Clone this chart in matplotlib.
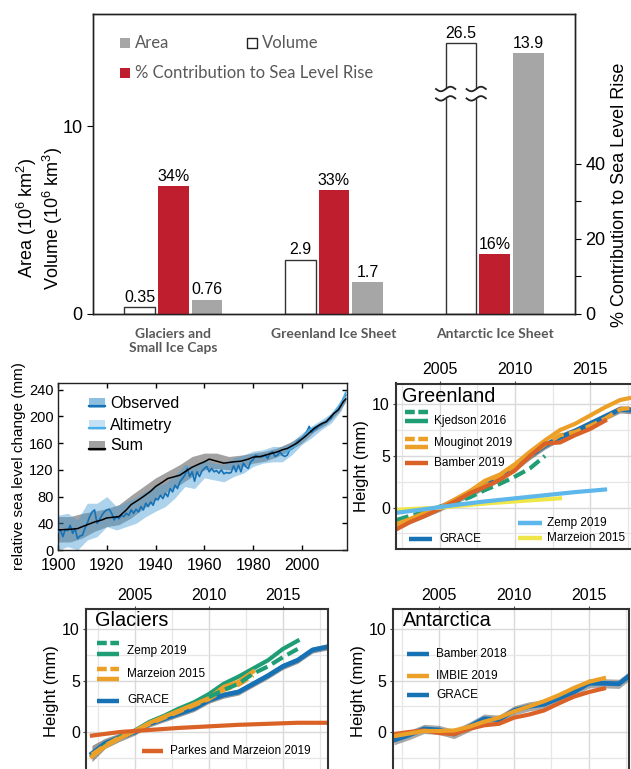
import numpy as np
import matplotlib
matplotlib.use('Agg')
import matplotlib.pyplot as plt
from matplotlib.patches import Rectangle
from matplotlib.lines import Line2D

plt.rcParams['font.family'] = ['Liberation Sans', 'DejaVu Sans']
plt.rcParams['mathtext.fontset'] = 'custom'
plt.rcParams['mathtext.rm'] = 'Liberation Sans'
plt.rcParams['mathtext.it'] = 'Liberation Sans:italic'

# ---------------- data: top bar panel ----------------
categories = ['Glaciers and\nSmall Ice Caps', 'Greenland Ice Sheet', 'Antarctic Ice Sheet']
volume = [0.35, 2.9, 26.5]          # 10^6 km^3
area = [0.76, 1.7, 13.9]            # 10^6 km^2
slr_contribution = [34, 33, 16]     # % contribution to sea level rise
volume_labels = ['0.35', '2.9', '26.5']
area_labels = ['0.76', '1.7', '13.9']
slr_labels = ['34%', '33%', '16%']
volume_break_at = 14.45             # broken (Antarctic) volume bar drawn up to this
left_ticks = [0, 10]
right_ticks = [0, 10, 20, 30, 40]
right_ticklabels = ['0', '', '20', '', '40']

# ---------------- data: sea level panel ----------------
obs_years = np.arange(1900, 2019)
observed = [27, 30, 20, 31, 29, 37, 25, 32, 17, 21,
            22, 32, 40, 50, 57, 60, 40, 45, 52, 57,
            60, 61, 55, 45, 50, 47, 52, 50, 55, 52,
            60, 55, 61, 57, 65, 60, 70, 65, 72, 67,
            77, 75, 82, 77, 85, 80, 92, 87, 97, 92,
            102, 107, 112, 122, 110, 117, 103, 117, 110, 118,
            122, 125, 117, 122, 117, 119, 115, 120, 114, 116,
            115, 116, 126, 117, 127, 117, 130, 125, 122, 132,
            135, 142, 140, 139, 140, 142, 137, 145, 147, 140,
            142, 147, 142, 140, 142, 150, 152, 157, 162, 165,
            167, 172, 177, 185, 176, 180, 182, 186, 187, 190,
            192, 195, 197, 205, 207, 212, 217, 227, 232]
obs_band_years = [1900, 1904, 1908, 1912, 1916, 1920, 1924, 1928, 1932, 1936,
                  1940, 1944, 1948, 1952, 1956, 1960, 1964, 1968, 1972, 1976,
                  1980, 1984, 1988, 1992, 1996, 2000, 2004, 2008, 2012, 2016, 2018]
obs_lo = [0, 5, 0, 15, 20, 35, 30, 35, 40, 50,
          58, 65, 78, 95, 92, 108, 105, 102, 110, 115,
          125, 130, 132, 132, 143, 158, 168, 180, 190, 208, 225]
obs_hi = [52, 55, 45, 70, 70, 80, 65, 72, 78, 88,
          95, 100, 112, 128, 125, 135, 130, 128, 138, 142,
          148, 150, 155, 155, 162, 175, 186, 195, 205, 225, 242]
alt_years = [1993, 1995, 1997, 1999, 2001, 2003, 2005, 2007, 2009, 2011, 2013, 2015, 2017, 2018]
altimetry = [145, 150, 156, 163, 171, 180, 183, 187, 191, 197, 205, 214, 226, 236]
sum_years = [1900, 1905, 1908, 1910, 1915, 1918, 1920, 1925, 1928, 1930,
             1933, 1935, 1938, 1940, 1943, 1945, 1947, 1950, 1952, 1955,
             1958, 1960, 1962, 1964, 1966, 1968, 1970, 1972, 1975, 1978,
             1980, 1983, 1985, 1988, 1990, 1992, 1994, 1996, 1998, 2000,
             2002, 2005, 2008, 2010, 2013, 2015, 2017, 2018]
sum_vals = [30, 31, 32, 35, 42, 45, 48, 50, 60, 68,
            75, 80, 88, 95, 102, 107, 109, 112, 117, 124,
            129, 132, 136, 134, 132, 130, 131, 132, 133, 136,
            139, 140, 142, 145, 147, 150, 152, 156, 160, 166,
            172, 182, 189, 192, 204, 210, 222, 226]
sum_band_years = [1900, 1905, 1910, 1915, 1920, 1925, 1930, 1935, 1940, 1945,
                  1950, 1955, 1960, 1965, 1970, 1975, 1980, 1985, 1990, 1995,
                  2000, 2005, 2010, 2015, 2018]
sum_lo = [12, 12, 18, 28, 35, 38, 48, 62, 75, 88,
          98, 110, 120, 122, 120, 124, 130, 133, 140, 149,
          160, 177, 188, 206, 222]
sum_hi = [50, 50, 55, 58, 62, 68, 82, 95, 108, 118,
          128, 140, 145, 145, 140, 142, 145, 148, 153, 161,
          172, 186, 196, 214, 230]
sl_xticks = [1900, 1920, 1940, 1960, 1980, 2000]
sl_yticks = [0, 40, 80, 120, 160, 200, 240]

# ---------------- data: Greenland ----------------
gr_grace_years = [2002.1, 2003, 2004, 2005, 2006, 2007, 2008, 2009, 2010, 2011,
                  2012, 2013, 2014, 2015, 2016, 2017, 2018]
gr_grace = [-1.8, -1.2, -0.6, 0.0, 0.7, 1.4, 2.1, 2.9, 3.9, 5.0,
            6.0, 6.8, 7.4, 8.1, 8.8, 9.5, 9.4]
gr_grace_err = [0.35] * 17
gr_moug_years = [2002.1, 2003, 2004, 2005, 2006, 2007, 2008, 2009, 2010, 2011,
                 2012, 2013, 2014, 2015, 2016, 2017, 2018]
gr_moug = [-1.6, -1.1, -0.5, 0.0, 0.8, 1.6, 2.6, 3.2, 4.2, 5.4,
           6.5, 7.5, 8.1, 8.9, 9.7, 10.4, 10.7]
gr_moug_dash = [-1.8, -1.2, -0.6, 0.0, 0.7, 1.4, 2.1, 2.9, 3.9, 5.0,
                6.1, 7.0, 7.3, 7.9, 8.6, 9.5, 9.7]
gr_bamber_years = [2002.1, 2003, 2004, 2005, 2006, 2007, 2008, 2009, 2010, 2011,
                   2012, 2013, 2014, 2015, 2016]
gr_bamber = [-2.1, -1.4, -0.8, -0.1, 0.6, 1.4, 2.0, 2.7, 3.6, 5.0,
             6.2, 6.3, 7.0, 7.6, 8.4]
gr_kjed_years = [2002.1, 2003, 2004, 2005, 2006, 2007, 2008, 2009, 2010, 2011, 2012]
gr_kjed = [-1.2, -0.8, -0.4, 0.1, 0.5, 1.0, 1.7, 2.3, 3.0, 3.8, 5.0]
gr_zemp_years = [2002.1, 2004, 2006, 2008, 2010, 2012, 2014, 2016]
gr_zemp = [-0.5, -0.15, 0.25, 0.6, 0.9, 1.2, 1.5, 1.75]
gr_marz_years = [2002.1, 2005, 2008, 2010, 2013]
gr_marz = [-0.2, 0.0, 0.4, 0.6, 0.9]

# ---------------- data: Glaciers ----------------
gl_grace_years = [2002.1, 2003, 2004, 2005, 2006, 2007, 2008, 2009, 2010, 2011,
                  2012, 2013, 2014, 2015, 2016, 2017, 2018]
gl_grace = [-2.1, -1.1, -0.5, 0.0, 0.8, 1.3, 1.8, 2.3, 3.1, 3.6,
            3.9, 4.7, 5.5, 6.4, 7.0, 8.0, 8.3]
gl_grace_err = [0.8, 0.5, 0.4, 0.3, 0.3, 0.3, 0.3, 0.3, 0.3, 0.3,
                0.3, 0.3, 0.3, 0.3, 0.3, 0.3, 0.3]
gl_zemp_years = [2002.1, 2003, 2004, 2005, 2006, 2007, 2008, 2009, 2010, 2011,
                 2012, 2013, 2014, 2015, 2016]
gl_zemp = [-2.3, -1.3, -0.5, 0.15, 1.0, 1.6, 2.3, 2.9, 3.7, 4.7,
           5.4, 6.2, 7.0, 8.1, 8.9]
gl_zemp_dash_years = [2010, 2011, 2012, 2013, 2014, 2015, 2016]
gl_zemp_dash = [3.4, 4.1, 4.7, 5.7, 6.4, 7.3, 8.1]
gl_marz_years = [2002.1, 2003, 2004, 2005, 2006, 2007, 2008, 2009, 2010, 2011, 2012, 2013]
gl_marz = [-2.4, -1.4, -0.6, 0.1, 0.9, 1.5, 2.1, 2.7, 3.3, 4.4, 4.9, 5.9]
gl_marz_dash = [-2.2, -1.3, -0.5, 0.1, 0.8, 1.4, 2.0, 2.6, 3.2, 4.1, 4.6, 5.5]
gl_parkes_years = [2002.1, 2004, 2006, 2008, 2010, 2012, 2014, 2016, 2018]
gl_parkes = [-0.35, 0.0, 0.2, 0.4, 0.55, 0.7, 0.8, 0.9, 0.9]

# ---------------- data: Antarctica ----------------
an_grace_years = [2002, 2003, 2004, 2005, 2006, 2007, 2008, 2009, 2010, 2011,
                  2012, 2013, 2014, 2015, 2016, 2017, 2017.8]
an_grace = [-0.8, -0.3, 0.3, 0.2, -0.2, 0.5, 1.3, 1.2, 2.1, 2.5,
            2.7, 3.3, 3.9, 4.75, 4.75, 4.7, 5.6]
an_grace_err = [0.45] * 17
an_imbie_years = [2002, 2003, 2004, 2005, 2006, 2007, 2008, 2009, 2010, 2011,
                  2012, 2013, 2014, 2015, 2016]
an_imbie = [-0.4, -0.15, 0.1, 0.1, 0.15, 0.5, 1.0, 1.4, 2.0, 2.5,
            3.0, 3.6, 4.3, 4.9, 5.25]
an_bamber = [-0.2, 0.0, 0.15, -0.1, -0.2, 0.3, 0.65, 0.8, 1.4, 1.7,
             2.1, 2.8, 3.45, 3.9, 4.25]

height_xticks = [2005, 2010, 2015]
height_yticks = [0, 5, 10]

# colours
C_BLUE = '#1672b5'
C_ORANGE = '#ECA028'
C_VERM = '#DA6227'
C_GREEN = '#1F9E76'
C_SKY = '#5DB7EA'
C_YELLOW = '#EFE64A'
C_RED = '#BE1E2D'
C_GRAYBAR = '#A6A6A6'
C_TXT = '#595959'

W, H = 631, 769
fig = plt.figure(figsize=(W / 100, H / 100), dpi=100)


def axpx(l, t, r, b):
    return fig.add_axes([l / W, 1 - b / H, (r - l) / W, (b - t) / H])


def fx(px):
    return px / W


def fy(py):
    return 1 - py / H


# =================== top bar panel ===================
ax = axpx(93, 14, 575, 314)
ax2 = ax.twinx()
x = np.arange(len(categories))
bw, off = 0.19, 0.21
vol_drawn = [min(v, volume_break_at) for v in volume]
ax.bar(x - off, vol_drawn, bw, color='white', edgecolor='#333333', lw=1.0, zorder=2)
ax.bar(x + off, area, bw, color=C_GRAYBAR, zorder=2)
ax2.bar(x, slr_contribution, bw, color=C_RED, zorder=2)
ax.set_xlim(-0.5, 2.5)
ax.set_ylim(0, 16)
ax2.set_ylim(0, 80)
for xi, v, lab in zip(x, vol_drawn, volume_labels):
    ax.text(xi - off, v + 0.12, lab, ha='center', va='bottom', fontsize=11.5)
for xi, v, lab in zip(x, area, area_labels):
    ax.text(xi + off, v + 0.12, lab, ha='center', va='bottom', fontsize=11.5)
for xi, v, lab in zip(x, slr_contribution, slr_labels):
    ax2.text(xi, v + 0.6, lab, ha='center', va='bottom', fontsize=11.5)
# break marks on the Antarctic volume bar
for i, v in enumerate(volume):
    if v > volume_break_at:
        xc = x[i] - off
        t = np.linspace(-1, 1, 40)
        for edge in (xc - bw / 2, xc + bw / 2):
            xs = edge + t * 0.06
            y1 = 12.0 + 0.12 * np.sin(np.pi * t)
            y2 = 11.5 + 0.12 * np.sin(np.pi * t)
            ax.fill_between(xs, y2, y1, color='white', zorder=3, lw=0)
            ax.plot(xs, y1, color='#222222', lw=1.3, zorder=4)
            ax.plot(xs, y2, color='#222222', lw=1.3, zorder=4)
ax.set_xticks(x)
ax.set_xticklabels(categories, fontsize=10, fontweight='bold', color=C_TXT,
                   family=['Lato', 'DejaVu Sans'], linespacing=1.25)
ax.tick_params(axis='x', length=0, pad=10)
ax.set_yticks(left_ticks)
ax.tick_params(axis='y', labelsize=13, length=4, direction='out')
ax2.set_yticks(right_ticks)
ax2.set_yticklabels(right_ticklabels)
ax2.tick_params(axis='y', labelsize=13, length=4, direction='out')
for a in (ax, ax2):
    for s in a.spines.values():
        s.set_linewidth(1.0)
        s.set_color('#222222')
fig.text(fx(40), fy(218), 'Area ($10^6$ km$^2$)\nVolume ($10^6$ km$^3$)', rotation=90,
         ha='center', va='center', fontsize=13, linespacing=1.1)
fig.text(fx(620), fy(195), '% Contribution to Sea Level Rise', rotation=90,
         ha='center', va='center', fontsize=13)
# legend
fig.add_artist(Rectangle((fx(120), fy(48)), 10 / W, 10 / H, transform=fig.transFigure,
                         facecolor=C_GRAYBAR, edgecolor='none'))
fig.add_artist(Rectangle((fx(247), fy(48)), 10 / W, 10 / H, transform=fig.transFigure,
                         facecolor='white', edgecolor='#222222', lw=1))
fig.add_artist(Rectangle((fx(120), fy(78)), 10 / W, 10 / H, transform=fig.transFigure,
                         facecolor=C_RED, edgecolor='none'))
lfont = dict(fontsize=12, color=C_TXT, va='center', family=['Lato', 'DejaVu Sans'])
fig.text(fx(135), fy(43), 'Area', **lfont)
fig.text(fx(262), fy(43), 'Volume', **lfont)
fig.text(fx(135), fy(73), '% Contribution to Sea Level Rise', **lfont)

# =================== sea level panel ===================
axs = axpx(58, 383, 347, 550)
axs.fill_between(sum_band_years, sum_lo, sum_hi, color='#a2a2a2', lw=0, zorder=1)
axs.fill_between(obs_band_years, obs_lo, obs_hi, color='#4a9cd6', alpha=0.45, lw=0, zorder=2)
axs.plot(obs_years, observed, color=C_BLUE, lw=1.2, zorder=3)
axs.plot(alt_years, altimetry, color='#4aaee8', lw=1.2, zorder=4)
axs.plot(sum_years, sum_vals, color='black', lw=1.1, zorder=5)
axs.set_xlim(1900, 2018.5)
axs.set_ylim(0, 250)
axs.set_xticks(sl_xticks)
axs.set_yticks(sl_yticks)
axs.tick_params(direction='in', top=True, right=True, length=3.5, width=1)
axs.tick_params(axis='x', labelsize=11.5, pad=5.5)
axs.tick_params(axis='y', labelsize=10.5, pad=3)
for s in axs.spines.values():
    s.set_linewidth(1.0)
    s.set_color('#222222')
axs.set_ylabel('relative sea level change (mm)', fontsize=11, labelpad=2)
# legend (manual)
sl_leg = [('Observed', '#8dbfe0', C_BLUE, 403),
          ('Altimetry', '#c4e2f5', '#4aaee8', 425),
          ('Sum', '#a2a2a2', 'black', 446)]
for lab, pc, lc, yc in sl_leg:
    fig.add_artist(Rectangle((fx(89), fy(yc + 5)), 16 / W, 10 / H, transform=fig.transFigure,
                             facecolor=pc, edgecolor='none'))
    fig.add_artist(Line2D([fx(89), fx(105)], [fy(yc + 2.5)] * 2, transform=fig.transFigure,
                          color=lc, lw=1.6))
    fig.text(fx(110), fy(yc), lab, fontsize=11.5, va='center')


# =================== height panels ===================
def style_height(a, xlim):
    a.set_xlim(*xlim)
    a.set_ylim(-4, 12)
    a.xaxis.tick_top()
    a.set_xticks(height_xticks)
    a.set_yticks(height_yticks)
    a.set_xticks(np.arange(2002.5, 2020, 2.5), minor=True)
    a.set_yticks([-2.5, 2.5, 7.5], minor=True)
    a.grid(True, which='major', color='#d9d9d9', lw=1.0)
    a.grid(True, which='minor', color='#e6e6e6', lw=0.9)
    a.set_axisbelow(True)
    a.tick_params(which='major', length=2.5, color='#444444', labelsize=11.5, pad=2)
    a.tick_params(which='minor', length=0)
    for s in a.spines.values():
        s.set_linewidth(1.5)
        s.set_color('#333333')
    a.set_ylabel('Height (mm)', fontsize=12, labelpad=2)


def leg_line(x0, x1, y, color, dashed=False):
    ls = (0, (2.2, 0.8)) if dashed else '-'
    fig.add_artist(Line2D([fx(x0), fx(x1)], [fy(y), fy(y)], transform=fig.transFigure,
                          color=color, lw=3.2, ls=ls, solid_capstyle='butt',
                          dash_capstyle='butt'))


def leg_text(xp, yp, s):
    fig.text(fx(xp), fy(yp), s, fontsize=8.5, va='center')


DASH = (0, (3.0, 1.3))
LW = 3.0

# ---- Greenland ----
ag = axpx(396, 383.5, 640, 549)
style_height(ag, (2002.07, 2018.33))
lo = np.array(gr_grace) - np.array(gr_grace_err)
hi = np.array(gr_grace) + np.array(gr_grace_err)
ag.fill_between(gr_grace_years, lo, hi, color='#555555', alpha=0.6, lw=0)
ag.plot(gr_grace_years, gr_grace, color=C_BLUE, lw=LW + 0.4)
ag.plot(gr_kjed_years, gr_kjed, color=C_GREEN, lw=LW, ls=DASH)
ag.plot(gr_moug_years, gr_moug, color=C_ORANGE, lw=LW)
ag.plot(gr_moug_years, gr_moug_dash, color=C_ORANGE, lw=LW, ls=DASH)
ag.plot(gr_bamber_years, gr_bamber, color=C_VERM, lw=LW)
ag.plot(gr_marz_years, gr_marz, color=C_YELLOW, lw=LW)
ag.plot(gr_zemp_years, gr_zemp, color=C_SKY, lw=LW)
ag.text(fx(402), fy(397), 'Greenland', transform=fig.transFigure, fontsize=14.3, va='center')
leg_line(405, 428, 412, C_GREEN, True)
leg_line(405, 428, 421, C_GREEN)
leg_text(434, 421, 'Kjedson 2016')
leg_line(405, 428, 439, C_ORANGE, True)
leg_line(405, 428, 447, C_ORANGE)
leg_text(434, 443, 'Mouginot 2019')
leg_line(405, 428, 463, C_VERM)
leg_text(434, 463, 'Bamber 2019')
leg_line(409, 432, 539, C_BLUE)
leg_text(439, 539, 'GRACE')
leg_line(518, 542, 523, C_SKY)
leg_text(547, 523, 'Zemp 2019')
leg_line(518, 542, 538, C_YELLOW)
leg_text(547, 538, 'Marzeion 2015')

# ---- Glaciers ----
agl = axpx(86, 609, 328, 773)
style_height(agl, (2001.7, 2018.05))
lo = np.array(gl_grace) - np.array(gl_grace_err)
hi = np.array(gl_grace) + np.array(gl_grace_err)
agl.fill_between(gl_grace_years, lo, hi, color='#555555', alpha=0.6, lw=0)
agl.plot(gl_grace_years, gl_grace, color=C_BLUE, lw=LW + 0.4)
agl.plot(gl_zemp_years, gl_zemp, color=C_GREEN, lw=LW)
agl.plot(gl_marz_years, gl_marz, color=C_ORANGE, lw=LW)
agl.plot(gl_marz_years, gl_marz_dash, color=C_ORANGE, lw=LW, ls=DASH)
agl.plot(gl_zemp_dash_years, gl_zemp_dash, color=C_GREEN, lw=LW, ls=DASH)
agl.plot(gl_parkes_years, gl_parkes, color=C_VERM, lw=LW)
agl.text(fx(95), fy(621), 'Glaciers', transform=fig.transFigure, fontsize=14.3, va='center')
leg_line(97, 119, 643, C_GREEN, True)
leg_line(97, 119, 654, C_GREEN)
leg_text(127, 651, 'Zemp 2019')
leg_line(97, 119, 669, C_ORANGE, True)
leg_line(97, 119, 679, C_ORANGE)
leg_text(127, 674, 'Marzeion 2015')
leg_line(97, 119, 701, C_BLUE)
leg_text(127, 700, 'GRACE')
leg_line(142, 163, 751, C_VERM)
leg_text(170, 751, 'Parkes and Marzeion 2019')

# ---- Antarctica ----
aa = axpx(393, 609, 629, 773)
style_height(aa, (2001.93, 2017.67))
lo = np.array(an_grace) - np.array(an_grace_err)
hi = np.array(an_grace) + np.array(an_grace_err)
aa.fill_between(an_grace_years, lo, hi, color='#555555', alpha=0.5, lw=0)
aa.plot(an_grace_years, an_grace, color=C_BLUE, lw=LW + 0.4)
aa.plot(an_imbie_years, an_bamber, color=C_VERM, lw=LW)
aa.plot(an_imbie_years, an_imbie, color=C_ORANGE, lw=LW)
aa.text(fx(403), fy(621), 'Antarctica', transform=fig.transFigure, fontsize=14.3, va='center')
leg_line(407, 429, 654, C_BLUE)
leg_text(436, 654, 'Bamber 2018')
leg_line(407, 429, 676, C_ORANGE)
leg_text(436, 676, 'IMBIE 2019')
leg_line(407, 429, 695, C_BLUE)
leg_text(436, 695, 'GRACE')

fig.savefig('out.png', dpi=100)
